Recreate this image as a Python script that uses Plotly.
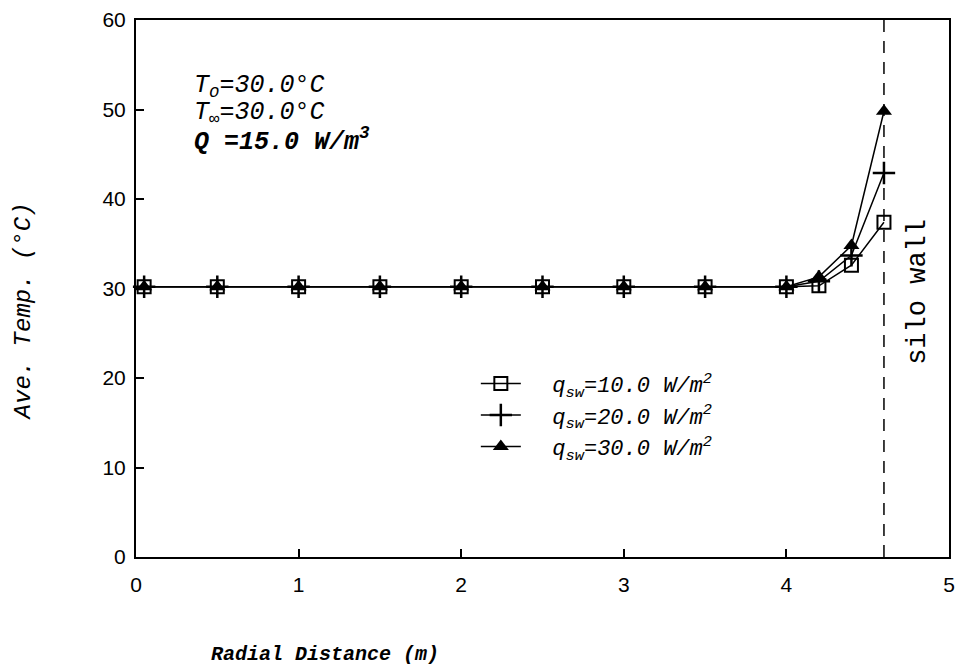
import plotly.graph_objects as go

# ---- data ----
radial_x = [0.05, 0.5, 1.0, 1.5, 2.0, 2.5, 3.0, 3.5, 4.0, 4.2, 4.4, 4.6]
temp_q10 = [30.2, 30.2, 30.2, 30.2, 30.2, 30.2, 30.2, 30.2, 30.2, 30.3, 32.6, 37.4]
temp_q20 = [30.2, 30.2, 30.2, 30.2, 30.2, 30.2, 30.2, 30.2, 30.2, 30.8, 33.7, 42.9]
temp_q30 = [30.2, 30.2, 30.2, 30.2, 30.2, 30.2, 30.2, 30.2, 30.2, 31.3, 34.8, 49.8]
series_names = [
    "\u00a0\u00a0q<sub>sw</sub>=10.0 W/m<sup>2</sup>",
    "\u00a0\u00a0q<sub>sw</sub>=20.0 W/m<sup>2</sup>",
    "\u00a0\u00a0q<sub>sw</sub>=30.0 W/m<sup>2</sup>",
]
wall_x = 4.6
x_ticks = [0, 1, 2, 3, 4, 5]
y_ticks = [0, 10, 20, 30, 40, 50, 60]
info_lines = [
    "T<sub>o</sub>=30.0°C",
    "T<sub>∞</sub>=30.0°C",
    "<b>Q =15.0 W/m<sup>3</sup></b>",
]

MONO = "Liberation Mono"
fig = go.Figure()

styles = [
    dict(symbol="square-open", size=13, line=dict(width=2, color="black"), color="black"),
    dict(symbol="cross-thin", size=16, line=dict(width=2.5, color="black"), color="black"),
    dict(symbol="triangle-up", size=14, line=dict(width=0, color="black"), color="black"),
]
for name, ys, st in zip(series_names, [temp_q10, temp_q20, temp_q30], styles):
    fig.add_trace(go.Scatter(
        x=radial_x, y=ys, name=name, mode="lines+markers",
        line=dict(color="black", width=1.5),
        marker=st, cliponaxis=False,
    ))

fig.add_shape(type="line", x0=wall_x, x1=wall_x, y0=0, y1=1, xref="x", yref="paper",
              line=dict(color="black", width=1.5, dash="12px,9px"))

for i, txt in enumerate(info_lines):
    fig.add_annotation(text=txt, xref="paper", yref="paper", x=0.069, y=0.876 - i * 0.05,
                       xanchor="left", yanchor="middle", showarrow=False,
                       font=dict(family=MONO, size=25, color="black", style="italic"))

fig.add_annotation(text="silo wall", xref="paper", yref="paper", x=0.962, y=0.494,
                   textangle=-90, showarrow=False, xanchor="center", yanchor="middle",
                   font=dict(family=MONO, size=27, color="black"))

fig.add_annotation(text="Ave. Temp. (°C)", xref="paper", yref="paper", x=-0.138, y=0.457,
                   textangle=-90, showarrow=False, xanchor="center", yanchor="middle",
                   font=dict(family=MONO, size=24, color="black", style="italic"))

fig.add_annotation(text="<b>Radial Distance (m)</b>", xref="paper", yref="paper", x=0.233, y=-0.182,
                   showarrow=False, xanchor="center", yanchor="middle",
                   font=dict(family=MONO, size=20, color="black", style="italic"))

axis_common = dict(showline=True, linecolor="black", linewidth=2, mirror=True,
                   ticks="inside", ticklen=8, tickwidth=1.5, tickcolor="black",
                   showgrid=False, zeroline=False,
                   tickfont=dict(family="Liberation Sans", size=21, color="black"))

fig.update_xaxes(range=[0, 5], tickvals=x_ticks, ticklabelstandoff=8, **axis_common)
fig.update_yaxes(range=[0, 60], tickvals=y_ticks, ticklabelstandoff=4, **axis_common)

fig.update_layout(
    width=963, height=671,
    margin=dict(l=136, r=8, t=16, b=114),
    paper_bgcolor="white", plot_bgcolor="white",
    showlegend=True,
    legend=dict(x=0.418, y=0.362, xanchor="left", yanchor="top",
                bgcolor="rgba(0,0,0,0)", borderwidth=0,
                font=dict(family=MONO, size=22, color="black", style="italic"),
                itemwidth=40, tracegroupgap=0),
)

fig.write_html("out.html")
